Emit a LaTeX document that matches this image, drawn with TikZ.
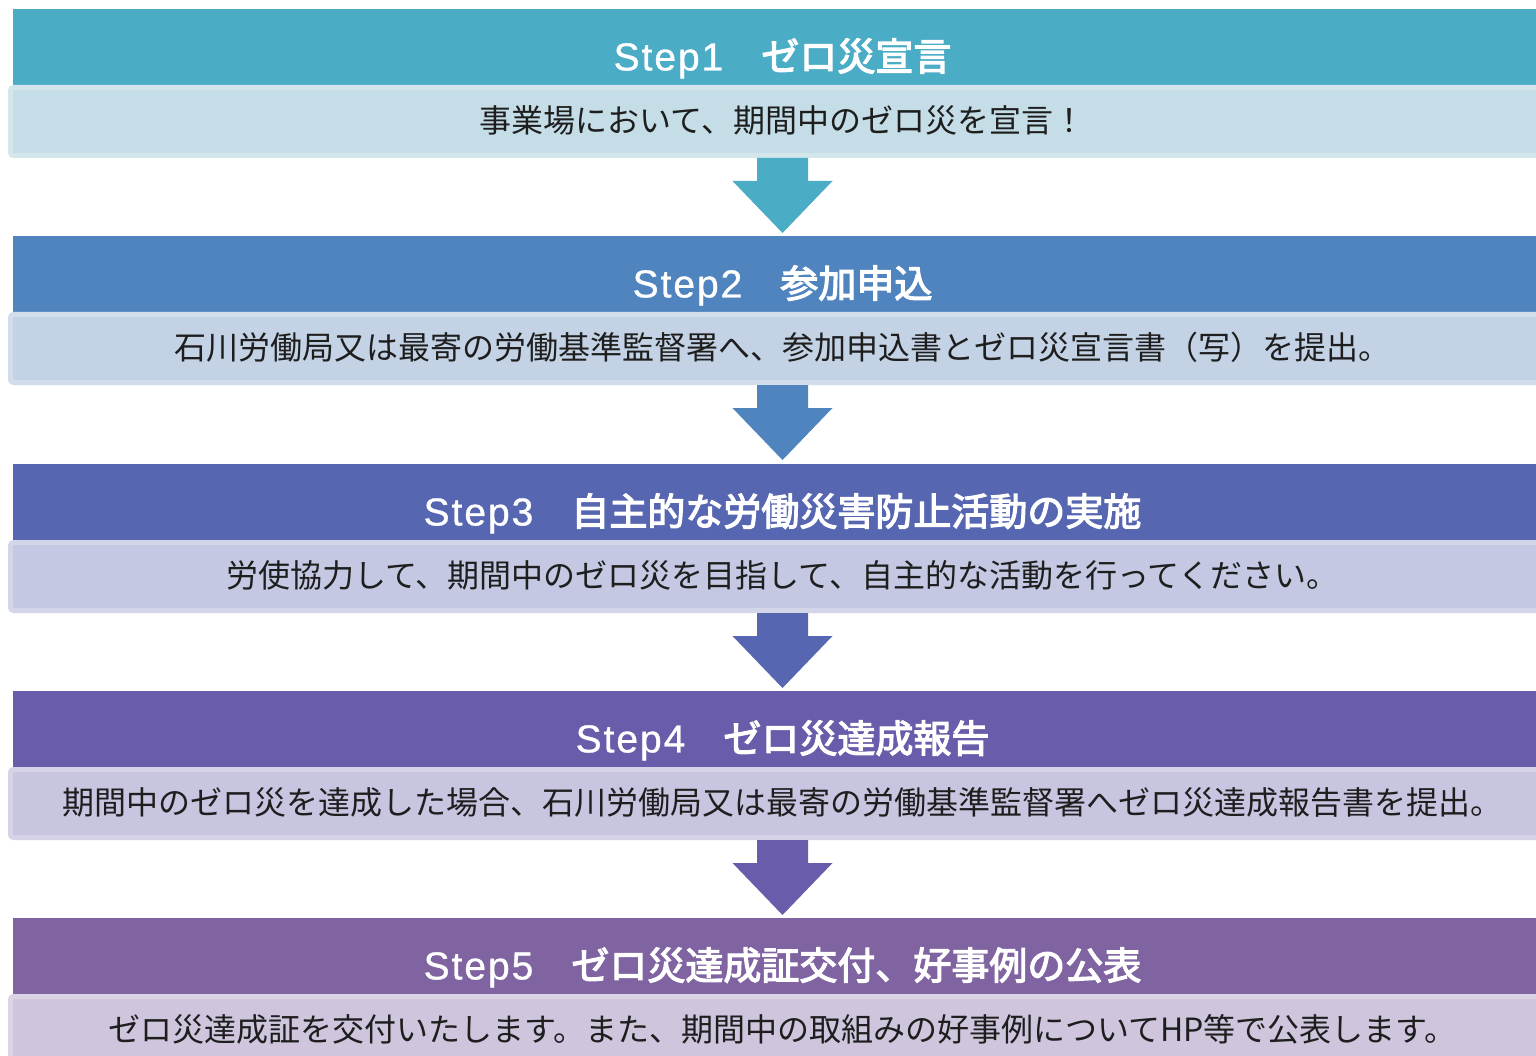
\documentclass[tikz,border=0pt]{standalone}
\usepackage{fontspec}
\newfontfamily\jpfont{Noto Sans CJK JP}
\newfontfamily\jptitlefont[FakeBold=3.2]{Noto Sans CJK JP}
\newfontfamily\stepfont[LetterSpace=5,FakeBold=0.8]{Liberation Sans}
\definecolor{headA}{HTML}{4BACC6}
\definecolor{headB}{HTML}{4F84BE}
\definecolor{headC}{HTML}{5766B1}
\definecolor{headD}{HTML}{695CAA}
\definecolor{headE}{HTML}{8064A2}
\definecolor{bandA}{HTML}{C4DDE6}
\definecolor{bandB}{HTML}{C3D2E4}
\definecolor{bandC}{HTML}{C4C8E2}
\definecolor{bandD}{HTML}{C8C5E0}
\definecolor{bandE}{HTML}{CFC6DE}
\definecolor{bodytext}{HTML}{1E1E1E}
\begin{document}
\begin{tikzpicture}[x=1pt,y=1pt,
  head/.style={fill=#1,anchor=north west,minimum width=1532pt,minimum height=76pt,inner sep=0pt,outer sep=0pt},
  band/.style={fill=#1,draw=#1!75!white,line width=5pt,rounded corners=3pt,anchor=north west,minimum width=1540pt,minimum height=68pt,inner sep=0pt,outer sep=0pt},
  steptitle/.style={text=white,inner sep=0pt,font=\fontsize{38}{46}\selectfont\jptitlefont},
  stepbody/.style={text=bodytext,inner sep=0pt,font=\fontsize{32}{38}\selectfont\jpfont}]
\useasboundingbox[fill=white] (0,0) rectangle (1536,-1056);
\node[head=headA] (head1) at (13,-9) {};
\node[band=bandA] (band1) at (10.5,-87.5) {};
\node[steptitle] (title1) at (782.5,-58.5) {{\stepfont\fontsize{39}{46}\selectfont Step1}　ゼロ災宣言};
\node[stepbody] (body1) at (782.5,-120) {事業場において、期間中のゼロ災を宣言！};
\coordinate (a1) at (782.5,-158);
\fill[headA] (a1) ++(-25.5,0) -- ++(51,0) -- ++(0,-23) -- ++(24.5,0) -- ++(-50,-52) -- ++(-50,52) -- ++(24.5,0) -- cycle;
\node[head=headB] (head2) at (13,-236) {};
\node[band=bandB] (band2) at (10.5,-314.5) {};
\node[steptitle] (title2) at (782.5,-285.5) {{\stepfont\fontsize{39}{46}\selectfont Step2}　参加申込};
\node[stepbody] (body2) at (782.5,-347) {石川労働局又は最寄の労働基準監督署へ、参加申込書とゼロ災宣言書（写）を提出。};
\coordinate (a2) at (782.5,-385);
\fill[headB] (a2) ++(-25.5,0) -- ++(51,0) -- ++(0,-23) -- ++(24.5,0) -- ++(-50,-52) -- ++(-50,52) -- ++(24.5,0) -- cycle;
\node[head=headC] (head3) at (13,-464) {};
\node[band=bandC] (band3) at (10.5,-542.5) {};
\node[steptitle] (title3) at (782.5,-513.5) {{\stepfont\fontsize{39}{46}\selectfont Step3}　自主的な労働災害防止活動の実施};
\node[stepbody] (body3) at (782.5,-575) {労使協力して、期間中のゼロ災を目指して、自主的な活動を行ってください。};
\coordinate (a3) at (782.5,-613);
\fill[headC] (a3) ++(-25.5,0) -- ++(51,0) -- ++(0,-23) -- ++(24.5,0) -- ++(-50,-52) -- ++(-50,52) -- ++(24.5,0) -- cycle;
\node[head=headD] (head4) at (13,-691) {};
\node[band=bandD] (band4) at (10.5,-769.5) {};
\node[steptitle] (title4) at (782.5,-740.5) {{\stepfont\fontsize{39}{46}\selectfont Step4}　ゼロ災達成報告};
\node[stepbody] (body4) at (782.5,-802) {期間中のゼロ災を達成した場合、石川労働局又は最寄の労働基準監督署へゼロ災達成報告書を提出。};
\coordinate (a4) at (782.5,-840);
\fill[headD] (a4) ++(-25.5,0) -- ++(51,0) -- ++(0,-23) -- ++(24.5,0) -- ++(-50,-52) -- ++(-50,52) -- ++(24.5,0) -- cycle;
\node[head=headE] (head5) at (13,-918) {};
\node[band=bandE] (band5) at (10.5,-996.5) {};
\node[steptitle] (title5) at (782.5,-967.5) {{\stepfont\fontsize{39}{46}\selectfont Step5}　ゼロ災達成証交付、好事例の公表};
\node[stepbody] (body5) at (782.5,-1029) {ゼロ災達成証を交付いたします。また、期間中の取組みの好事例についてHP等で公表します。};
\end{tikzpicture}
\end{document}
